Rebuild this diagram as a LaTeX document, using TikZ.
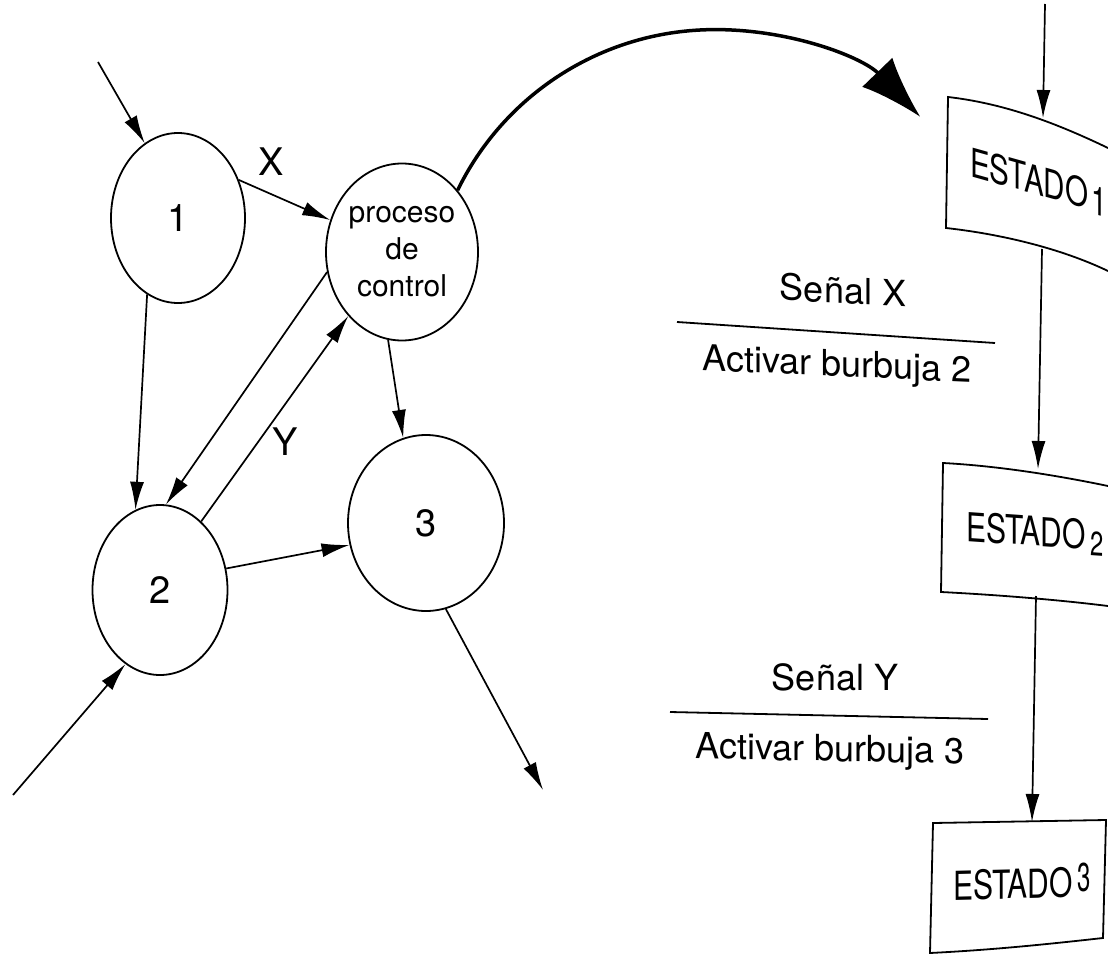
\documentclass[tikz,border=0pt]{standalone}
\usepackage{fontspec}
\usepackage{graphicx}
\setmainfont{TeX Gyre Heros}
\usetikzlibrary{arrows.meta,shapes.geometric}
\begin{document}
\begin{tikzpicture}[x=1pt,y=-1pt,
  bub/.style={draw, ellipse, line width=1.8pt, inner sep=0pt, font={\fontsize{38}{40}\selectfont}},
  conn/.style={line width=1.7pt, -{Latex[length=28pt,width=14pt]}},
  big/.style={line width=3.5pt, -{Latex[length=62pt,width=42pt]}},
  lbl/.style={font={\fontsize{38}{40}\selectfont}, inner sep=0pt},
  sig/.style={font={\fontsize{36}{40}\selectfont}, inner sep=0pt},
  est/.style={font={\fontsize{40}{40}\selectfont}, inner sep=0pt, anchor=base west},
  boxline/.style={line width=1.8pt},
  rule/.style={line width=1.8pt}]
\useasboundingbox[fill=white] (0,0) rectangle (1108,955);

% bubbles
\node[bub, minimum width=134pt, minimum height=170pt] (b1) at (178,218) {1};
\node[bub, minimum width=152pt, minimum height=177pt, align=center, font={\fontsize{30}{37}\selectfont}] (proc) at (402,252) {proceso\\de\\control};
\node[bub, minimum width=135pt, minimum height=170pt] (b2) at (160,590) {2};
\node[bub, minimum width=156pt, minimum height=176pt] (b3) at (426,523) {3};

\coordinate (in1) at (98,62);
\coordinate (in2) at (13,795);
\coordinate (out3) at (543,790);

\draw[conn] (in1) -- (b1.114);
\draw[conn] (b1.32) -- (proc.156);
\draw[conn] (b1.248) -- (b2.107);
\draw[conn] (proc.195) -- (b2.86);
\draw[conn] (b2.59) -- (proc.230);
\draw[conn] (proc.261) -- (b3.105);
\draw[conn] (b2.18) -- (b3.196);
\draw[conn] (in2) -- (b2.245);
\draw[conn] (b3.283) -- (out3);

\node[lbl] (lx) at (271,162) {X};
\node[lbl] (ly) at (285,442) {Y};

% big curved arrow
\draw[big] (proc.48) arc[start angle=206, end angle=316, radius=286];

% state boxes
\draw[boxline] (1108,148) .. controls (1050,120) and (1000,103) .. (948,97) -- (946,228) .. controls (1000,234) and (1060,248) .. (1108,271);
\draw[boxline] (1108,486) .. controls (1060,476) and (1000,466) .. (943,463) -- (941,592) .. controls (1000,595) and (1060,600) .. (1108,606);
\draw[boxline] (933,823) -- (1106,820) -- (1103,938) .. controls (1040,945) and (990,950) .. (930,953) -- cycle;

\node[est, yslant=-0.28] (t1) at (970,176) {\scalebox{0.74}[1]{ESTADO}\hspace{3pt}\raisebox{-4pt}{\scalebox{0.7}[1]{1}}};
\node[est, yslant=-0.07] (t2) at (966,541) {\scalebox{0.75}[1]{ESTADO}\hspace{5pt}\raisebox{-6pt}{\scalebox{0.7}[1]{\fontsize{34}{34}\selectfont 2}}};
\node[est, yslant=0.025] (t3) at (953,900) {\scalebox{0.75}[1]{ESTADO}\hspace{5pt}\raisebox{5pt}{\scalebox{0.6}[1]{3}}};

\coordinate (e1in) at (1045,4);
\coordinate (e1top) at (1043,118);
\coordinate (e1bot) at (1042,249);
\coordinate (e2top) at (1038,469);
\coordinate (e2bot) at (1036,596);
\coordinate (e3top) at (1032,822);

\draw[conn] (e1in) -- (e1top);
\draw[conn] (e1bot) -- (e2top);
\draw[conn] (e2bot) -- (e3top);

% transition labels
\node[sig, yslant=-0.05] (sx) at (843,290) {Señal X};
\draw[rule] (677,322) -- (995,343);
\node[sig, yslant=-0.045] (ax) at (837,367) {Activar burbuja 2};
\node[sig] (sy) at (835,677) {Señal Y};
\draw[rule] (670,712) -- (988,719);
\node[sig, yslant=-0.02] (ay) at (830,752) {Activar burbuja 3};
\end{tikzpicture}
\end{document}
